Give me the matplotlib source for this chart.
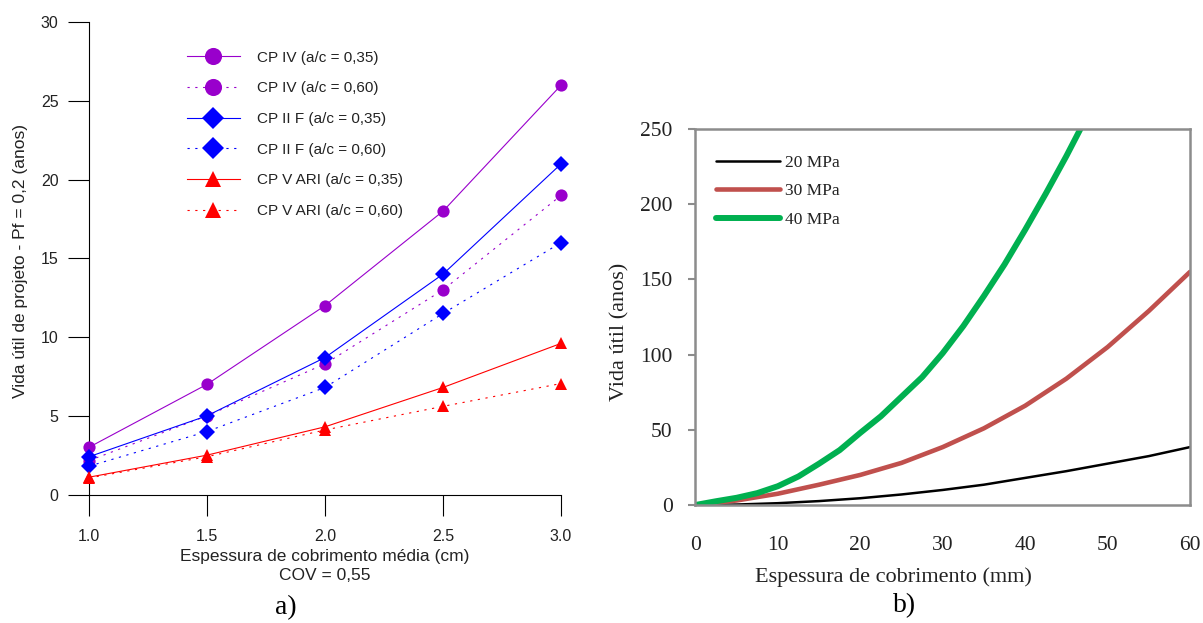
import matplotlib.pyplot as plt

# ---- panel a) data ----
cobrimento_cm = [1.0, 1.5, 2.0, 2.5, 3.0]
cp4_035 = [3.0, 7.0, 12.0, 18.0, 26.0]
cp4_060 = [2.15, 5.0, 8.3, 13.0, 19.0]
cp2f_035 = [2.4, 5.0, 8.7, 14.0, 21.0]
cp2f_060 = [1.8, 4.0, 6.8, 11.5, 16.0]
cp5_035 = [1.1, 2.5, 4.3, 6.8, 9.6]
cp5_060 = [1.05, 2.4, 4.1, 5.6, 7.05]

series_a = [
    ("CP IV (a/c = 0,35)", cp4_035, "#9900CC", "o", "-"),
    ("CP IV (a/c = 0,60)", cp4_060, "#9900CC", "o", (0, (2, 5))),
    ("CP II F (a/c = 0,35)", cp2f_035, "#0000FF", "D", "-"),
    ("CP II F (a/c = 0,60)", cp2f_060, "#0000FF", "D", (0, (2, 5))),
    ("CP V ARI (a/c = 0,35)", cp5_035, "#FF0000", "^", "-"),
    ("CP V ARI (a/c = 0,60)", cp5_060, "#FF0000", "^", (0, (2, 5))),
]
marker_size = {"o": 8.8, "D": 7.8, "^": 8.6}

# ---- panel b) data (read off the curves) ----
esp_20 = [0, 5, 10, 15, 20, 25, 30, 35, 40, 45, 50, 55, 60]
vida_20 = [0, 0.3, 1.2, 2.6, 4.5, 7, 10, 13.5, 18, 22.5, 27.5, 32.5, 38.5]
esp_30 = [0, 5, 10, 15, 20, 25, 30, 35, 40, 45, 50, 55, 60]
vida_30 = [0, 3, 7.5, 13.5, 20, 28, 38.5, 51, 66, 84, 105, 129, 155]
esp_40 = [0, 2.5, 5, 7.5, 10, 12.5, 15, 17.5, 20, 22.5, 25, 27.5, 30,
          32.5, 35, 37.5, 40, 42.5, 45, 46.7]
vida_40 = [0, 2.5, 4.8, 7.9, 12.5, 19, 27.5, 36.5, 48, 59, 72, 85, 101,
           119, 139, 160, 183, 207, 232, 250]

fig = plt.figure(figsize=(12.03, 6.23), dpi=100)

# ---------------- panel a ----------------
sans = "Liberation Sans"
ax1 = fig.add_axes([0.07398, 0.20626, 0.39236, 0.75795])
for label, vals, col, mk, ls in series_a:
    ax1.plot(cobrimento_cm, vals, color=col, linestyle=ls, linewidth=0.8,
             marker=mk, markersize=marker_size[mk],
             markeredgewidth=0, label=label, clip_on=False, zorder=3)

ax1.set_xlim(1.0, 3.0)
ax1.set_ylim(0, 30)
ax1.set_xticks(cobrimento_cm)
ax1.set_xticklabels([f"{v:.1f}" for v in cobrimento_cm])
ax1.set_yticks([0, 5, 10, 15, 20, 25, 30])
for s in ["top", "right"]:
    ax1.spines[s].set_visible(False)
for s in ["left", "bottom"]:
    ax1.spines[s].set_linewidth(0.8)
ax1.tick_params(axis="both", length=15, width=0.8, labelsize=11.5,
                labelcolor="#222222")
ax1.tick_params(axis="y", pad=7)
ax1.tick_params(axis="x", pad=10)
for t in ax1.get_xticklabels() + ax1.get_yticklabels():
    t.set_family(sans)

leg1 = ax1.legend(loc="upper left", bbox_to_anchor=(0.2076, 0.940),
                  frameon=False, borderpad=0, borderaxespad=0,
                  handlelength=3.46, handletextpad=1.1, labelspacing=1.09,
                  markerscale=1.4, prop={"family": sans, "size": 11})
for t in leg1.get_texts():
    t.set_color("#222222")

fig.text(0.01663, 0.5811, "Vida útil de projeto - Pf = 0,2 (anos)",
         rotation=90, ha="center", va="center", family=sans, size=12.5,
         color="#222222")
fig.text(0.2702, 0.1072, "Espessura de cobrimento média (cm)",
         ha="center", va="center", family=sans, size=12.5, color="#222222")
fig.text(0.2702, 0.0762, "COV = 0,55", ha="center", va="center",
         family=sans, size=12.5, color="#222222")
fig.text(0.2377, 0.0241, "a)", ha="center", va="center",
         family="Liberation Serif", size=20)

# ---------------- panel b ----------------
serif = "Liberation Serif"
ax2 = fig.add_axes([0.5781, 0.18941, 0.4111, 0.60353])
ax2.plot(esp_20, vida_20, color="black", linewidth=1.8, label="20 MPa",
         solid_capstyle="round", solid_joinstyle="round")
ax2.plot(esp_30, vida_30, color="#C0504D", linewidth=3.3, label="30 MPa",
         solid_capstyle="round", solid_joinstyle="round")
ax2.plot(esp_40, vida_40, color="#00B050", linewidth=4.3, label="40 MPa",
         solid_capstyle="round", solid_joinstyle="round")
ax2.set_xlim(0, 60)
ax2.set_ylim(0, 250)
ax2.set_xticks([0, 10, 20, 30, 40, 50, 60])
ax2.set_yticks([0, 50, 100, 150, 200, 250])
for s in ax2.spines.values():
    s.set_color("#8c8c8c")
    s.set_linewidth(1.8)
ax2.tick_params(axis="y", length=5, width=1.5, color="#8c8c8c", pad=11.5,
                labelsize=15.5, labelcolor="#222222")
ax2.tick_params(axis="x", length=0, pad=22, labelsize=15.5,
                labelcolor="#222222")
for t in ax2.get_xticklabels() + ax2.get_yticklabels():
    t.set_family(serif)

leg2 = ax2.legend(loc="upper left", bbox_to_anchor=(0.0415, 0.931),
                  frameon=False, borderpad=0, borderaxespad=0,
                  handlelength=3.7, handletextpad=0.25, labelspacing=0.7,
                  prop={"family": serif, "size": 12.5})
for t in leg2.get_texts():
    t.set_color("#222222")

fig.text(0.5154, 0.4671, "Vida útil (anos)", rotation=90, ha="center",
         va="center", family=serif, size=16, color="#222222")
fig.text(0.7423, 0.0738, "Espessura de cobrimento (mm)", ha="center",
         va="center", family=serif, size=16, color="#222222")
fig.text(0.7523, 0.0273, "b)", ha="center", va="center", family=serif,
         size=20)

fig.savefig("out.png", dpi=100)
